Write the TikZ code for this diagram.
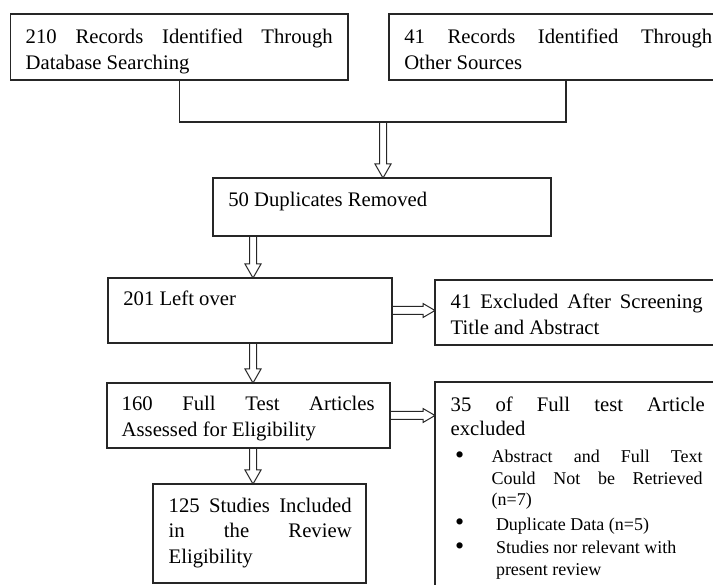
\documentclass[tikz,border=0pt]{standalone}
\usepackage{fontspec}
\setmainfont{Liberation Serif}
\usetikzlibrary{calc}
\tolerance=10000
\hyphenpenalty=10000
\newcommand{\bigbul}{{\fontsize{26}{21.5}\selectfont\raisebox{-0.5pt}{•}}}
\begin{document}
\begin{tikzpicture}[x=1pt,y=-1pt,
  box/.style={draw=black!85, line width=1.3pt, anchor=north west, inner sep=0pt, outer sep=0pt},
  txt/.style={anchor=base west, inner sep=0pt, outer sep=0pt, align=justify, text=black,
    font=\fontsize{20.7}{25.5}\selectfont},
  txttop/.style={txt, font=\fontsize{20.7}{26}\selectfont},
  txthead/.style={txt, font=\fontsize{20.7}{23.5}\selectfont},
  txtitem/.style={txt, font=\fontsize{18}{21.5}\selectfont},
  conn/.style={draw=black!85, line width=1.3pt},
  darrow/.style={draw=black!85, line width=1pt, line join=miter, to path={
    let \p1=(\tikztostart), \p2=(\tikztotarget) in
    (\x1-3.5pt,\y1) -- (\x1-3.5pt,\y2+14pt) -- (\x1-8pt,\y2+14pt) -- (\x1,\y2)
    -- (\x1+8pt,\y2+14pt) -- (\x1+3.5pt,\y2+14pt) -- (\x1+3.5pt,\y1)}},
  rarrow/.style={draw=black!85, line width=1pt, line join=miter, to path={
    let \p1=(\tikztostart), \p2=(\tikztotarget) in
    (\x1,\y1+4pt) -- (\x2-12pt,\y1+4pt) -- (\x2-12pt,\y1+7pt) -- (\x2,\y1)
    -- (\x2-12pt,\y1-7pt) -- (\x2-12pt,\y1-4pt) -- (\x1,\y1-4pt)}}
]
\useasboundingbox (0,0) rectangle (713,585);
\clip (0,0) rectangle (713,585);

% boxes
\node[box, minimum width=337.3pt, minimum height=66pt] (b1) at (10.7,14) {};
\node[box, minimum width=337pt, minimum height=66pt] (b2) at (389,14) {};
\node[box, minimum width=338pt, minimum height=58pt] (b3) at (213,178) {};
\node[box, minimum width=284pt, minimum height=65pt] (b4) at (108,278) {};
\node[box, minimum width=290pt, minimum height=65pt] (b5) at (435,280) {};
\node[box, minimum width=283pt, minimum height=65pt] (b6) at (107,383) {};
\node[box, minimum width=290pt, minimum height=230pt] (b7) at (435,382) {};
\node[box, minimum width=213pt, minimum height=99pt] (b8) at (153,484) {};

% texts
\node[txttop, text width=307pt] (t1) at (25.7,43.3)
  {210 Records Identified Through\linebreak Database Searching};
\node[txttop, text width=308pt] (t2) at (404.3,43.3)
  {41 Records Identified Through\linebreak Other Sources};
\node[txt] (t3) at (228.3,206.5) {50 Duplicates Removed};
\node[txt] (t4) at (123.3,306) {201 Left over};
\node[txt, text width=252pt] (t5) at (450.7,308.7)
  {41 Excluded After Screening\linebreak Title and Abstract};
\node[txt, text width=253pt] (t6) at (121.7,410.7)
  {160 Full Test Articles\linebreak Assessed for Eligibility};
\node[txthead, text width=254pt] (t7) at (450.7,411.7)
  {35 of Full test Article\linebreak excluded};
\node[txtitem, text width=211pt] (i1) at (491.7,462.7)
  {\llap{\bigbul\hspace{27.5pt}}Abstract and Full Text\linebreak Could Not be Retrieved\linebreak (n=7)};
\node[txtitem, text width=211pt] (i2) at (496,530)
  {\llap{\bigbul\hspace{31.8pt}}Duplicate Data (n=5)};
\node[txtitem, text width=211pt] (i3) at (496,554)
  {\llap{\bigbul\hspace{31.8pt}}Studies nor relevant with\newline present review};
\node[txt, text width=183pt] (t8) at (168.7,512.3)
  {125 Studies Included\linebreak in the Review\linebreak Eligibility};

% connectors
\coordinate (m) at (383,122);
\coordinate (ax) at (253,0);
\draw[conn] (b1.south) |- (m) -| ([xshift=8.5pt]b2.south);
\draw[darrow] (m) to (m |- b3.north);
\draw[darrow] (ax |- b3.south) to (ax |- b4.north);
\draw[darrow] (ax |- b4.south) to (ax |- b6.north);
\draw[darrow] (ax |- b6.south) to (ax |- b8.north);
\draw[rarrow] (b4.east) to (b4.east -| b5.west);
\draw[rarrow] (b6.east) to (b6.east -| b7.west);
\end{tikzpicture}
\end{document}
